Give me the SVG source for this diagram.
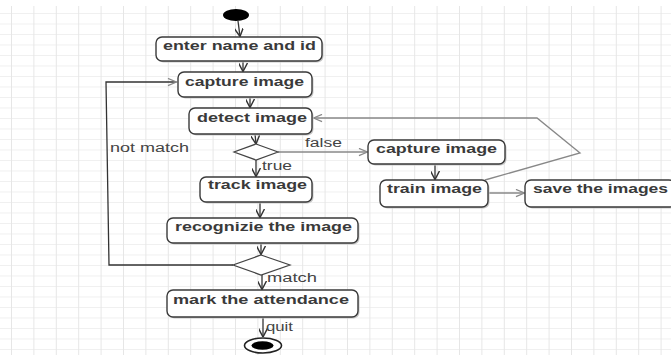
<svg xmlns="http://www.w3.org/2000/svg" width="671" height="355" viewBox="0 0 671 355">
<style>
.box{fill:#fff;stroke:#3a3a3a;stroke-width:1.4}
.shd{fill:#c8c8c8}
.t{font-family:"Liberation Sans",Arial,sans-serif;font-weight:bold;font-size:13px;fill:#3a3a3a}
.l{font-family:"Liberation Sans",Arial,sans-serif;font-size:12px;fill:#444}
.c{fill:none;stroke:#333;stroke-width:1.3}
.g{fill:none;stroke:#888;stroke-width:1.3}
.dia{fill:#fff;stroke:#444;stroke-width:1.2}
</style>
<defs>
<pattern id="gv" x="11" y="0" width="22.4" height="355" patternUnits="userSpaceOnUse">
<rect x="0" y="0" width="1" height="355" fill="#e6e6e6"/>
</pattern>
<pattern id="gh" x="0" y="13" width="671" height="10.5" patternUnits="userSpaceOnUse">
<rect x="0" y="0" width="671" height="1" fill="#f0f0f0"/>
</pattern>
<marker id="a" viewBox="0 0 10 10" refX="9.5" refY="5" markerWidth="9" markerHeight="9" orient="auto" markerUnits="userSpaceOnUse">
<path d="M0,0 L9.5,5 L0,10" fill="none" stroke="#333" stroke-width="1.6"/>
</marker>
<marker id="ag" viewBox="0 0 10 10" refX="9.5" refY="5" markerWidth="12" markerHeight="9" orient="auto" markerUnits="userSpaceOnUse">
<path d="M0,1 L9.5,5 L0,9" fill="none" stroke="#888" stroke-width="1.4"/>
</marker>
</defs>
<rect width="671" height="355" fill="#fff"/>
<rect x="0" y="6" width="671" height="349" fill="url(#gh)"/>
<rect x="0" y="6" width="671" height="349" fill="url(#gv)"/>

<g id="connectors">
<line class="c" x1="238" y1="21" x2="240" y2="36.5" marker-end="url(#a)"/>
<line class="c" x1="243" y1="61" x2="243" y2="71.5" marker-end="url(#a)"/>
<line class="c" x1="250" y1="97" x2="250" y2="107.5" marker-end="url(#a)"/>
<line class="c" x1="255" y1="134" x2="256" y2="144" marker-end="url(#a)"/>
<line class="g" x1="278" y1="152" x2="367.5" y2="152" marker-end="url(#ag)"/>
<line class="c" x1="256" y1="160" x2="256" y2="176.5" marker-end="url(#a)"/>
<line class="c" x1="260" y1="202" x2="260" y2="217.5" marker-end="url(#a)"/>
<line class="c" x1="261" y1="243" x2="261" y2="254.5" marker-end="url(#a)"/>
<polyline class="c" points="233,265 109,265 106,82 176.5,82" marker-end="url(#ag)"/>
<line class="c" x1="262" y1="275" x2="262" y2="289.5" marker-end="url(#a)"/>
<line class="c" x1="263" y1="317" x2="263" y2="337" marker-end="url(#a)"/>
<line class="c" x1="435" y1="164" x2="435" y2="179.5" marker-end="url(#a)"/>
<line class="g" x1="488" y1="193" x2="524.5" y2="193" marker-end="url(#ag)"/>
<polyline class="g" points="485,180 580,153 537,118 313.5,118" marker-end="url(#ag)"/>
<text class="l" x="305" y="147" textLength="37" lengthAdjust="spacingAndGlyphs">false</text>
<text class="l" x="262" y="170" textLength="30" lengthAdjust="spacingAndGlyphs">true</text>
<text class="l" x="110" y="152" textLength="79" lengthAdjust="spacingAndGlyphs">not match</text>
<text class="l" x="267" y="282" textLength="50" lengthAdjust="spacingAndGlyphs">match</text>
<text class="l" x="266" y="331" textLength="27" lengthAdjust="spacingAndGlyphs">quit</text>
</g>

<g id="start">
<ellipse cx="236" cy="15" rx="13" ry="6" fill="#000"/>
</g>

<g id="enter">
<rect class="shd" x="157.5" y="38.5" width="166" height="24" rx="6"/>
<rect class="box" x="156" y="37" width="166" height="24" rx="6"/>
<text class="t" x="163" y="49.5" textLength="153" lengthAdjust="spacingAndGlyphs">enter name and id</text>
</g>

<g id="capture1">
<rect class="shd" x="179.5" y="73.5" width="134" height="25" rx="6"/>
<rect class="box" x="178" y="72" width="134" height="25" rx="6"/>
<text class="t" x="185" y="85.5" textLength="119" lengthAdjust="spacingAndGlyphs">capture image</text>
</g>

<g id="detect">
<rect class="shd" x="190.5" y="109.5" width="123" height="26" rx="6"/>
<rect class="box" x="189" y="108" width="123" height="26" rx="6"/>
<text class="t" x="197" y="121.5" textLength="110" lengthAdjust="spacingAndGlyphs">detect image</text>
</g>

<g id="decision1">
<polygon class="dia" points="256,144 278,152 256,160 234,152"/>
</g>

<g id="track">
<rect class="shd" x="201.5" y="178.5" width="112" height="25" rx="6"/>
<rect class="box" x="200" y="177" width="112" height="25" rx="6"/>
<text class="t" x="208" y="189" textLength="99" lengthAdjust="spacingAndGlyphs">track image</text>
</g>

<g id="recognize">
<rect class="shd" x="168.5" y="219.5" width="191" height="25" rx="6"/>
<rect class="box" x="167" y="218" width="191" height="25" rx="6"/>
<text class="t" x="175" y="231" textLength="177" lengthAdjust="spacingAndGlyphs">recognizie the image</text>
</g>

<g id="decision2">
<polygon class="dia" points="261,255 290,265 261,275 233,265"/>
</g>

<g id="mark">
<rect class="shd" x="168.5" y="291.5" width="191" height="27" rx="6"/>
<rect class="box" x="167" y="290" width="191" height="27" rx="6"/>
<text class="t" x="173" y="304" textLength="176" lengthAdjust="spacingAndGlyphs">mark the attendance</text>
</g>

<g id="end">
<ellipse cx="263" cy="345.5" rx="18.5" ry="7.5" fill="#fff" stroke="#222" stroke-width="1.6"/>
<ellipse cx="262.5" cy="345.5" rx="11" ry="4.3" fill="#000"/>
</g>

<g id="capture2">
<rect class="shd" x="369.5" y="141.5" width="137" height="24" rx="6"/>
<rect class="box" x="368" y="140" width="137" height="24" rx="6"/>
<text class="t" x="376" y="152.5" textLength="121" lengthAdjust="spacingAndGlyphs">capture image</text>
</g>

<g id="train">
<rect class="shd" x="381.5" y="181.5" width="108" height="27" rx="6"/>
<rect class="box" x="380" y="180" width="108" height="27" rx="6"/>
<text class="t" x="387" y="193" textLength="95" lengthAdjust="spacingAndGlyphs">train image</text>
</g>

<g id="save">
<rect class="shd" x="526.5" y="181.5" width="150" height="27" rx="6"/>
<rect class="box" x="525" y="180" width="150" height="27" rx="6"/>
<text class="t" x="533" y="193" textLength="135" lengthAdjust="spacingAndGlyphs">save the images</text>
</g>
</svg>
